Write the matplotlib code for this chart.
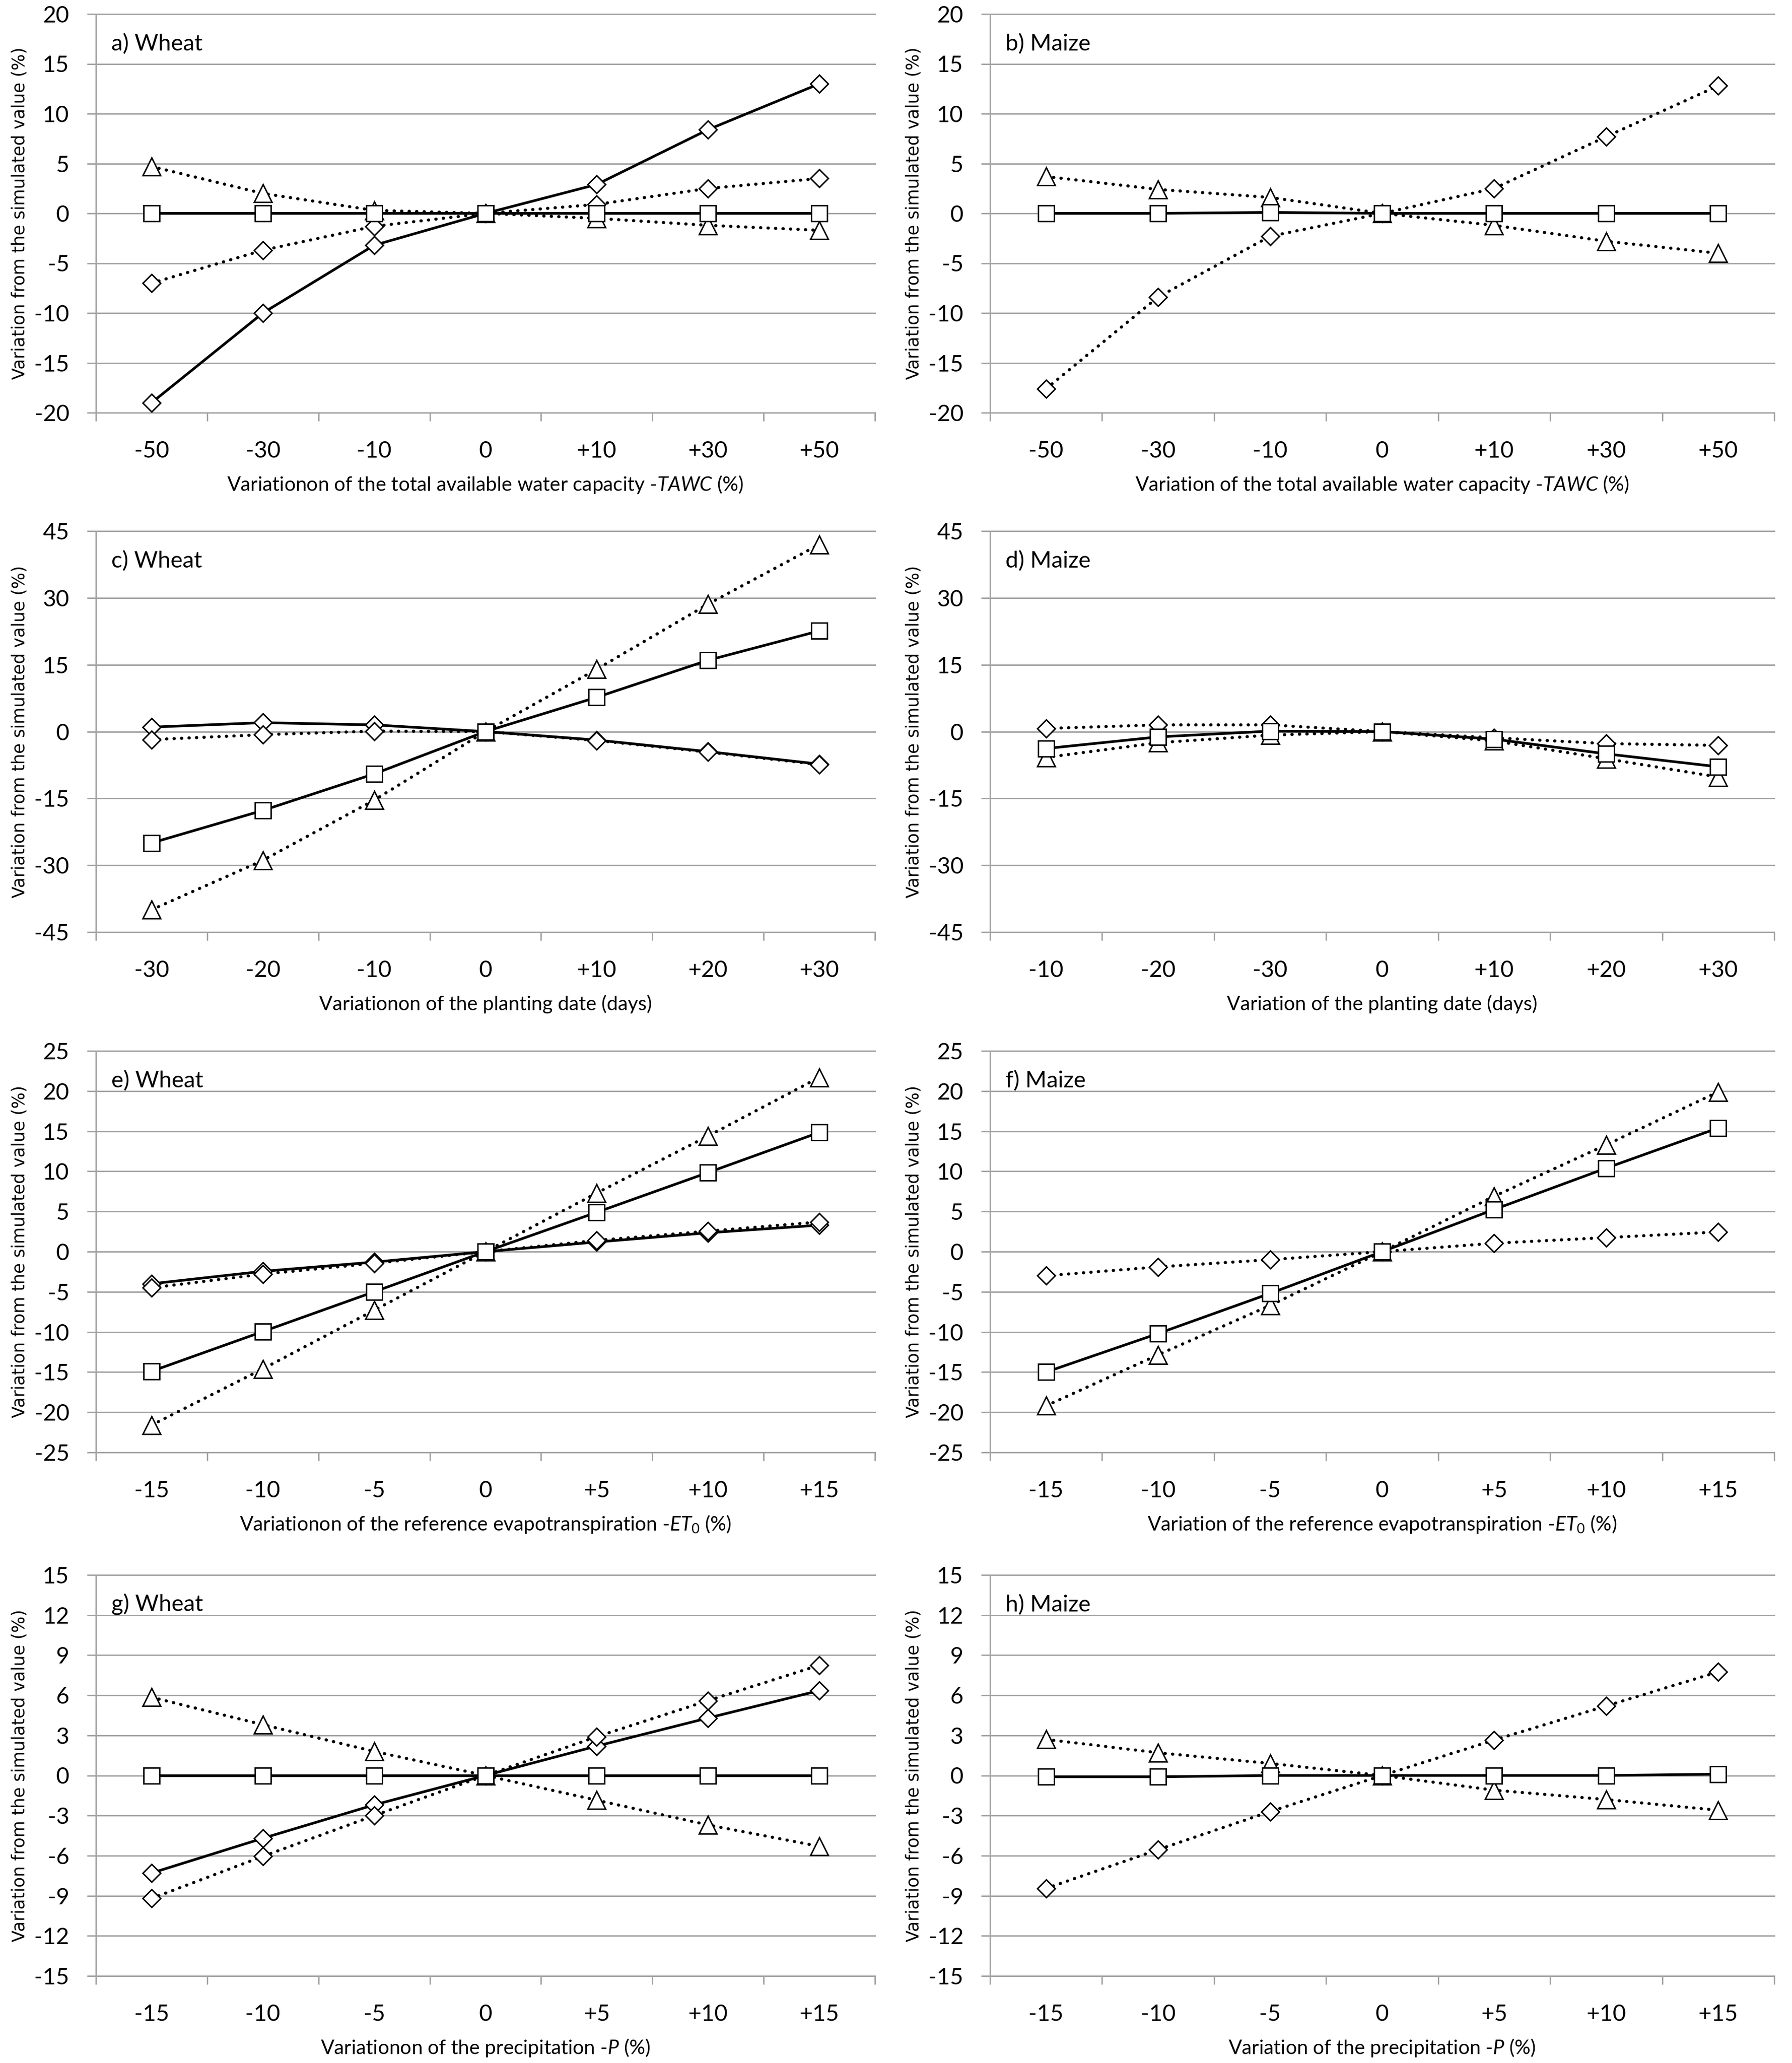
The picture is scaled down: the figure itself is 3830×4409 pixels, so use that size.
import matplotlib
matplotlib.use("Agg")
import matplotlib.pyplot as plt
from matplotlib.transforms import offset_copy
import numpy as np

plt.rcParams['font.family'] = ['Lato', 'DejaVu Sans']
plt.rcParams['axes.unicode_minus'] = False
plt.rcParams['mathtext.fontset'] = 'custom'
plt.rcParams['mathtext.rm'] = 'Lato'
plt.rcParams['mathtext.it'] = 'Lato:italic'

# ---------------- data ----------------
tawc_labels = ["-50", "-30", "-10", "0", "+10", "+30", "+50"]
pdate_wheat_labels = ["-30", "-20", "-10", "0", "+10", "+20", "+30"]
pdate_maize_labels = ["-10", "-20", "-30", "0", "+10", "+20", "+30"]
pct15_labels = ["-15", "-10", "-5", "0", "+5", "+10", "+15"]

# a) Wheat - TAWC
a_diamond_solid = [-19.0, -10.0, -3.2, 0.0, 2.9, 8.4, 13.0]
a_diamond_dotted = [-7.0, -3.7, -1.3, 0.0, 0.9, 2.5, 3.5]
a_triangle_dotted = [4.7, 2.0, 0.3, 0.0, -0.5, -1.2, -1.7]
a_square_solid = [0.0, 0.0, 0.0, 0.0, 0.0, 0.0, 0.0]

# b) Maize - TAWC
b_diamond_dotted = [-17.6, -8.4, -2.3, 0.0, 2.5, 7.7, 12.8]
b_triangle_dotted = [3.7, 2.4, 1.6, 0.0, -1.2, -2.8, -4.0]
b_square_solid = [0.0, 0.0, 0.1, 0.0, 0.0, 0.0, 0.0]

# c) Wheat - planting date
c_diamond_solid = [1.0, 2.0, 1.5, 0.0, -1.9, -4.5, -7.3]
c_diamond_dotted = [-1.8, -0.7, 0.1, 0.0, -2.0, -4.6, -7.4]
c_triangle_dotted = [-40.0, -28.9, -15.4, 0.0, 14.0, 28.6, 42.0]
c_square_solid = [-25.0, -17.7, -9.5, 0.0, 7.7, 16.0, 22.6]

# d) Maize - planting date
d_diamond_dotted = [0.7, 1.5, 1.5, 0.0, -1.4, -2.7, -3.1]
d_triangle_dotted = [-5.8, -2.5, -0.8, 0.0, -2.1, -6.1, -10.2]
d_square_solid = [-3.8, -1.2, 0.1, 0.0, -1.7, -5.0, -7.9]

# e) Wheat - ET0
e_diamond_solid = [-4.0, -2.45, -1.3, 0.0, 1.2, 2.35, 3.3]
e_diamond_dotted = [-4.5, -2.8, -1.45, 0.0, 1.4, 2.55, 3.7]
e_triangle_dotted = [-21.6, -14.6, -7.3, 0.0, 7.3, 14.4, 21.7]
e_square_solid = [-14.9, -9.95, -5.0, 0.0, 4.9, 9.85, 14.85]

# f) Maize - ET0
f_diamond_dotted = [-3.0, -1.9, -1.0, 0.0, 1.05, 1.75, 2.45]
f_triangle_dotted = [-19.2, -12.85, -6.7, 0.0, 6.9, 13.3, 19.9]
f_square_solid = [-15.0, -10.2, -5.2, 0.0, 5.25, 10.4, 15.4]

# g) Wheat - precipitation
g_diamond_solid = [-7.3, -4.7, -2.2, 0.0, 2.2, 4.3, 6.35]
g_diamond_dotted = [-9.2, -6.05, -3.0, 0.0, 2.9, 5.6, 8.25]
g_triangle_dotted = [5.85, 3.8, 1.8, 0.0, -1.85, -3.7, -5.3]
g_square_solid = [0.0, 0.0, 0.0, 0.0, 0.0, 0.0, 0.0]

# h) Maize - precipitation
h_diamond_dotted = [-8.45, -5.55, -2.7, 0.0, 2.65, 5.2, 7.75]
h_triangle_dotted = [2.7, 1.7, 0.9, 0.0, -1.1, -1.8, -2.6]
h_square_solid = [-0.1, -0.1, 0.0, 0.0, 0.0, 0.0, 0.1]

xlabels = {
    'a': "Variationon of the total available water capacity -$\\mathit{TAWC}$ (%)",
    'b': "Variation of the total available water capacity -$\\mathit{TAWC}$ (%)",
    'c': "Variationon of the planting date (days)",
    'd': "Variation of the planting date (days)",
    'e': "Variationon of the reference evapotranspiration -$\\mathit{ET}_{\\mathit{0}}$ (%)",
    'f': "Variation of the reference evapotranspiration -$\\mathit{ET}_{\\mathit{0}}$ (%)",
    'g': "Variationon of the precipitation -$\\mathit{P}$ (%)",
    'h': "Variation of the precipitation -$\\mathit{P}$ (%)",
}
titles = {'a': "a) Wheat", 'b': "b) Maize", 'c': "c) Wheat", 'd': "d) Maize",
          'e': "e) Wheat", 'f': "f) Maize", 'g': "g) Wheat", 'h': "h) Maize"}
ylabel = "Variation from the simulated value (%)"

panels = [
    ('a', tawc_labels, (-20, 20, 5), [('Ds', a_diamond_solid), ('Dd', a_diamond_dotted), ('^d', a_triangle_dotted), ('ss', a_square_solid)]),
    ('b', tawc_labels, (-20, 20, 5), [('Dd', b_diamond_dotted), ('^d', b_triangle_dotted), ('ss', b_square_solid)]),
    ('c', pdate_wheat_labels, (-45, 45, 15), [('Ds', c_diamond_solid), ('Dd', c_diamond_dotted), ('^d', c_triangle_dotted), ('ss', c_square_solid)]),
    ('d', pdate_maize_labels, (-45, 45, 15), [('Dd', d_diamond_dotted), ('^d', d_triangle_dotted), ('ss', d_square_solid)]),
    ('e', pct15_labels, (-25, 25, 5), [('Ds', e_diamond_solid), ('Dd', e_diamond_dotted), ('^d', e_triangle_dotted), ('ss', e_square_solid)]),
    ('f', pct15_labels, (-25, 25, 5), [('Dd', f_diamond_dotted), ('^d', f_triangle_dotted), ('ss', f_square_solid)]),
    ('g', pct15_labels, (-15, 15, 3), [('Ds', g_diamond_solid), ('Dd', g_diamond_dotted), ('^d', g_triangle_dotted), ('ss', g_square_solid)]),
    ('h', pct15_labels, (-15, 15, 3), [('Dd', h_diamond_dotted), ('^d', h_triangle_dotted), ('ss', h_square_solid)]),
]

# ---------------- layout / style ----------------
W, H, DPI = 3830, 4409, 300
PX = 72.0 / DPI  # points per pixel
cols = [(205, 1870), (2116, 3792)]
rows = [(30, 882), (1135, 1992), (2246, 3104), (3366, 4223)]
GRID = '#a3a3a3'

marker_style = {
    'D': dict(marker='D', markersize=6.4),
    '^': dict(marker='^', markersize=9.0),
    's': dict(marker='s', markersize=8.0),
}

fig = plt.figure(figsize=(W / DPI, H / DPI), dpi=DPI)

for i, (key, xl, (ymin, ymax, ystep), series) in enumerate(panels):
    c = cols[i % 2]
    r = rows[i // 2]
    ax = fig.add_axes([c[0] / W, 1 - r[1] / H, (c[1] - c[0]) / W, (r[1] - r[0]) / H])
    x = np.arange(1, len(xl) + 1)
    for code, vals in series:
        m = code[0]
        solid = code[1] == 's'
        kw = dict(color='black', markerfacecolor='white', markeredgecolor='black',
                  markeredgewidth=0.75, clip_on=False, zorder=3)
        kw.update(marker_style[m])
        if solid:
            ax.plot(x, vals, linestyle='-', linewidth=1.35, solid_capstyle='round', **kw)
        else:
            ax.plot(x, vals, linestyle=(0, (0.1, 2.3)), linewidth=1.6,
                    dash_capstyle='round', **kw)
    ax.set_xlim(0.5, len(xl) + 0.5)
    ax.set_ylim(ymin, ymax)
    yt = np.arange(ymin, ymax + ystep / 2, ystep)
    ax.set_yticks(yt)
    ax.set_yticklabels([str(int(v)) for v in yt])
    ax.set_xticks(np.arange(0.5, len(xl) + 1, 1.0))
    ax.set_xticklabels([])
    ax.set_xticks(x, minor=True)
    ax.set_xticklabels(xl, minor=True)
    ax.tick_params(axis='x', which='major', direction='out', length=18 * PX, width=0.72, color=GRID)
    ax.tick_params(axis='x', which='minor', length=0, pad=60 * PX, labelsize=11.7)
    ax.tick_params(axis='y', which='major', direction='out', length=19 * PX, width=0.72,
                   color=GRID, pad=38 * PX, labelsize=11.7)
    ax.yaxis.grid(True, color=GRID, linewidth=0.72)
    ax.xaxis.grid(False)
    ax.set_axisbelow(True)
    for t in ax.yaxis.get_major_ticks():
        t.gridline.set_clip_on(False)
    for s in ['top', 'right']:
        ax.spines[s].set_visible(False)
    for s in ['left', 'bottom']:
        ax.spines[s].set_color(GRID)
        ax.spines[s].set_linewidth(0.72)
    # labels
    ax.text(0.5, 0, xlabels[key], fontsize=10.2, ha='center', va='baseline',
            transform=offset_copy(ax.transAxes, fig=fig, x=0, y=-167 * PX, units='points'))
    ax.text(0, 0.5, ylabel, fontsize=8.8, family='DejaVu Sans', rotation=90,
            ha='center', va='center',
            transform=offset_copy(ax.transAxes, fig=fig, x=-163 * PX, y=0, units='points'))
    ax.text(0, 1, titles[key], fontsize=11.7, ha='left', va='baseline',
            transform=offset_copy(ax.transAxes, fig=fig, x=33 * PX, y=-78 * PX, units='points'))

fig.savefig('out.png', dpi=DPI, facecolor='white')
